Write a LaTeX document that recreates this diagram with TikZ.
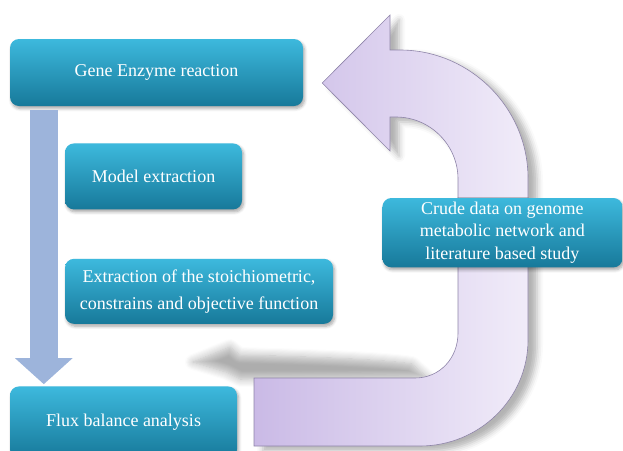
\documentclass[tikz,border=0pt]{standalone}
\usepackage{fontspec}
\setmainfont{Liberation Serif}
\usetikzlibrary{arrows.meta,calc,shadows.blur}
\definecolor{boxtop}{HTML}{3DB9DD}
\definecolor{boxbottom}{HTML}{17799A}
\definecolor{downblue}{HTML}{9DB4DB}
\definecolor{lilacdark}{HTML}{CABAE6}
\definecolor{lilaclight}{HTML}{F1ECF9}
\definecolor{lilacedge}{HTML}{8E84A8}
\tikzset{
  stepbox/.style={rounded corners=9pt,top color=boxtop,bottom color=boxbottom,
                  text=white,align=center,inner sep=4pt,font=\fontsize{18}{22.5}\selectfont,
                  blur shadow={shadow blur steps=6,shadow xshift=1.5pt,shadow yshift=-2.5pt,
                               shadow blur radius=3pt,shadow opacity=35}},
  downflow/.style={line width=28pt,draw=downblue,-{Triangle[width=56pt,length=26pt]}},
  uturn/.style={left color=lilacdark,right color=lilaclight,draw=lilacedge,line width=.6pt,
                blur shadow={shadow xshift=9pt,shadow yshift=-5pt,shadow blur radius=6pt,shadow opacity=30}},
  groundshadow/.style={blur shadow={shadow blur steps=8,shadow xshift=0pt,shadow yshift=0pt,
                       shadow blur radius=8pt,shadow opacity=32}}
}
\begin{document}
\begin{tikzpicture}[x=1pt,y=-1pt]
  \node[stepbox,minimum width=293pt,minimum height=67pt] (gene) at (156.5,72.5) {Gene Enzyme reaction};
  \node[stepbox,anchor=north west,minimum width=177pt,minimum height=66pt] (model) at ($(gene.south west)+(55,37)$) {Model extraction};
  \node[stepbox,anchor=north west,minimum width=268pt,minimum height=65pt,font=\fontsize{18}{27}\selectfont] (stoich) at ($(model.south west)+(0,49)$) {Extraction of the stoichiometric,\\constrains and objective function};
  \coordinate (tip) at ($(gene.east)+(19,10.5)$);
  % shadow of the return arrow on the ground
  \path[groundshadow] (193,362) -- (230,347) -- (240,355) .. controls (320,357) and (390,360) .. (412,364) -- (428,378) -- (240,379) -- (226,372) -- cycle;
  % return arrow
  \path[uturn] (254,378) -- (415,378) .. controls (440,378) and (458,358) .. (458,333) -- (458,179)
     .. controls (458,145) and (430,117) .. (396,117) -- (390,117) -- (390,151) -- (tip) -- (390,15) -- (390,50) -- (400,50)
     .. controls (470,50) and (528,108) .. (528,178) -- (528,340) .. controls (528,399) and (479,446) .. (420,446) -- (254,446) -- cycle;
  \node[stepbox,anchor=north west,minimum width=227pt,minimum height=72pt] (flux) at ($(gene.south west)+(0,280)$) {Flux balance analysis};
  \node[stepbox,anchor=north west,minimum width=240pt,minimum height=67pt] (crude) at ($(gene.north east)+(79,159)$) {Crude data on genome\\metabolic network and\\literature based study};
  \draw[downflow] ($(gene.south west)+(34,4)$) -- ($(flux.north west)+(34,-2)$);
  \pgfresetboundingbox
  \path[use as bounding box] (0,0) rectangle (623,450);
\end{tikzpicture}
\end{document}
